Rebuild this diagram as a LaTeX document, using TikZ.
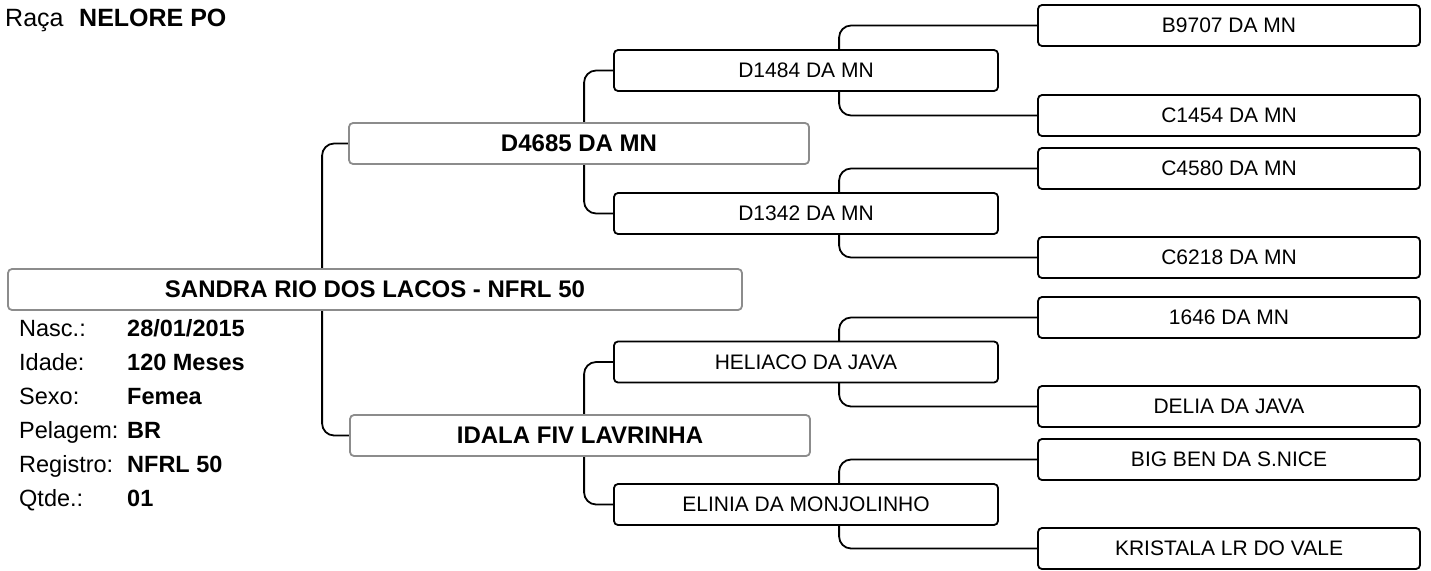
\documentclass[tikz,border=0pt]{standalone}
\usepackage{fontspec}
\setmainfont{Liberation Sans}
\usetikzlibrary{backgrounds}
\definecolor{frame}{RGB}{140,140,140}

\begin{document}
\begin{tikzpicture}[x=1pt,y=-1pt,
  box/.style={rounded corners=4pt,fill=white,line width=1.8pt,minimum height=41pt,inner sep=0pt},
  animal/.style={box,draw=frame,minimum width=734pt,font=\fontsize{24}{28}\selectfont\bfseries},
  parent/.style={box,draw=frame,minimum width=460pt,font=\fontsize{24}{28}\selectfont\bfseries},
  grand/.style={box,draw=black,minimum width=384pt,font=\fontsize{21}{25}\selectfont},
  ggrand/.style={box,draw=black,minimum width=382pt,font=\fontsize{21}{25}\selectfont},
  link/.style={line width=1.8pt,rounded corners=12pt},
  info/.style={anchor=base west,inner sep=0pt,font=\fontsize{23.5}{28}\selectfont},
  val/.style={info,font=\fontsize{23.5}{28}\selectfont\bfseries}]
  \useasboundingbox (0,0) rectangle (1431,570);

  % title
  \node[info,font=\fontsize{25}{30}\selectfont] (raca) at (5,26) {Raça};
  \node[val,font=\fontsize{25}{30}\selectfont\bfseries] (racaval) at (79,26) {NELORE PO};

  % the animal and its data
  \node[animal] (sandra) at (375,289.5) {SANDRA RIO DOS LACOS - NFRL 50};
  \node[info] (lnasc) at (19,336) {Nasc.:};
  \node[val] (vnasc) at (127,336) {28/01/2015};
  \node[info] (lidade) at (19,370) {Idade:};
  \node[val] (vidade) at (127,370) {120 Meses};
  \node[info] (lsexo) at (19,404) {Sexo:};
  \node[val] (vsexo) at (127,404) {Femea};
  \node[info] (lpel) at (19,438) {Pelagem:};
  \node[val] (vpel) at (127,438) {BR};
  \node[info] (lreg) at (19,472) {Registro:};
  \node[val] (vreg) at (127,472) {NFRL 50};
  \node[info] (lqtd) at (19,506) {Qtde.:};
  \node[val] (vqtd) at (127,506) {01};

  % parents
  \node[parent] (d4685) at (579,143.5) {D4685 DA MN};
  \node[parent] (idala) at (580,435.5) {IDALA FIV LAVRINHA};

  % grandparents
  \node[grand] (d1484) at (806,70.5) {D1484 DA MN};
  \node[grand] (d1342) at (806,213.5) {D1342 DA MN};
  \node[grand] (heliaco) at (806,362) {HELIACO DA JAVA};
  \node[grand] (elinia) at (806,504.5) {ELINIA DA MONJOLINHO};

  % great-grandparents
  \node[ggrand] (b9707) at (1229,25.5) {B9707 DA MN};
  \node[ggrand] (c1454) at (1229,115.5) {C1454 DA MN};
  \node[ggrand] (c4580) at (1229,168.5) {C4580 DA MN};
  \node[ggrand] (c6218) at (1229,257.5) {C6218 DA MN};
  \node[ggrand] (m1646) at (1229,317.5) {1646 DA MN};
  \node[ggrand] (delia) at (1229,406.5) {DELIA DA JAVA};
  \node[ggrand] (bigben) at (1229,459.5) {BIG BEN DA S.NICE};
  \node[ggrand] (kristala) at (1229,548.5) {KRISTALA LR DO VALE};

  % brackets behind the boxes
  \begin{pgfonlayer}{background}
    \draw[link] (d4685.west) -- ++(-26,0) |- (idala.west);
    \draw[link] (d1484.west) -- ++(-29,0) |- (d1342.west);
    \draw[link] (heliaco.west) -- ++(-29,0) |- (elinia.west);
    \draw[link] (b9707.west) -- ++(-198,0) |- (c1454.west);
    \draw[link] (c4580.west) -- ++(-198,0) |- (c6218.west);
    \draw[link] (m1646.west) -- ++(-198,0) |- (delia.west);
    \draw[link] (bigben.west) -- ++(-198,0) |- (kristala.west);
  \end{pgfonlayer}
\end{tikzpicture}
\end{document}
